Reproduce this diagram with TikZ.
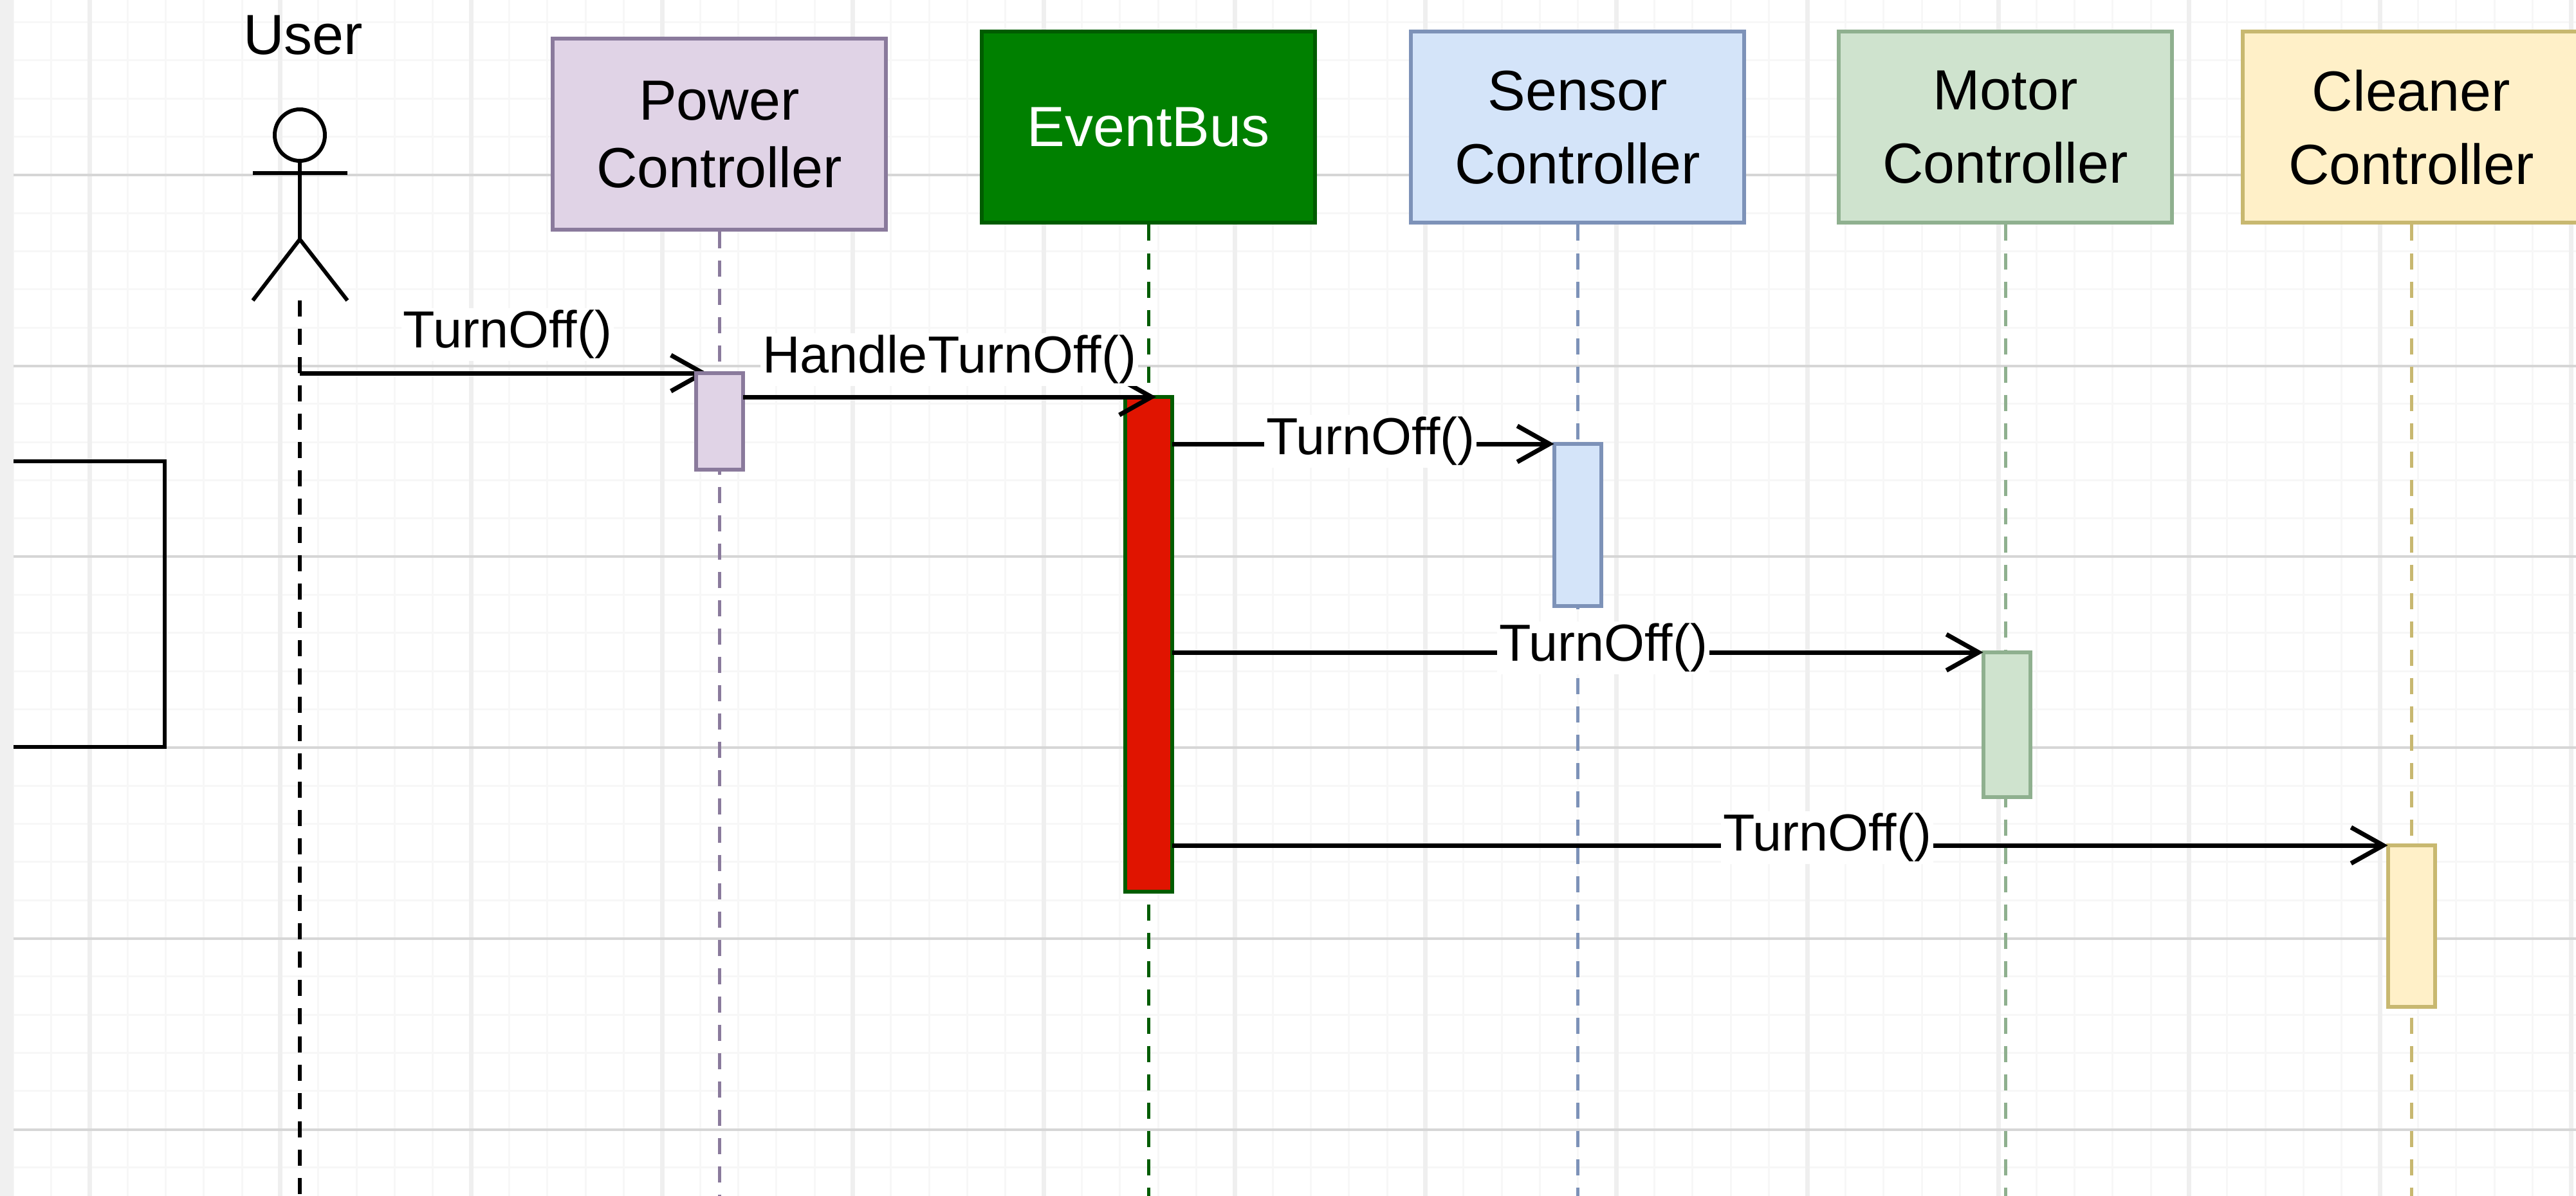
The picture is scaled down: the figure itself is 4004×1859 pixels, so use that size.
\documentclass[tikz,border=0pt]{standalone}
\usepackage{fontspec}
\setmainfont{Liberation Sans}
\usetikzlibrary{arrows.meta,shapes.geometric}
\definecolor{powerfill}{HTML}{E0D3E6}
\definecolor{powerline}{HTML}{8A7A9C}
\definecolor{busfill}{HTML}{008000}
\definecolor{busline}{HTML}{005C00}
\definecolor{sensorfill}{HTML}{D4E4F9}
\definecolor{sensorline}{HTML}{7D92B8}
\definecolor{motorfill}{HTML}{CFE3CE}
\definecolor{motorline}{HTML}{8FB08F}
\definecolor{cleanerfill}{HTML}{FFF0C8}
\definecolor{cleanerline}{HTML}{C8B870}
\definecolor{busred}{HTML}{E01400}
\tikzset{
    x=1pt, y=-1pt,
    every node/.style={font=\fontsize{88}{105}\selectfont, align=center},
    headbox/.style={draw, line width=6pt, minimum width=518pt, minimum height=297pt, inner sep=0pt},
    actbox/.style={draw, line width=6pt, minimum width=73pt, inner sep=0pt, outer sep=0pt, anchor=north},
    lifeline/.style={line width=5pt, dash pattern=on 25pt off 19pt},
    msg/.style={line width=7pt, -{Straight Barb[length=50pt,width=56pt]}},
    msglabel/.style={fill=white, inner sep=3pt, font=\fontsize{81}{97}\selectfont},
    stick/.style={line width=6pt}
}
\begin{document}
\begin{tikzpicture}
    \useasboundingbox (0,0) rectangle (4004,1859);

    % Draw Page and Grid
    \fill[white] (0,0) rectangle (4004,1859);
    \foreach \i in {0,...,67} {
        \draw[line width=3pt, color={rgb,255:red,247; green,247; blue,247}] ({20+59.34*\i},0) -- ({20+59.34*\i},1859);
    }
    \foreach \i in {0,...,31} {
        \draw[line width=3pt, color={rgb,255:red,247; green,247; blue,247}] (0,{-25+59.34*\i}) -- (4004,{-25+59.34*\i});
    }
    \foreach \i in {0,...,13} {
        \draw[line width=7pt, color={rgb,255:red,239; green,239; blue,239}] ({139+296.7*\i},0) -- ({139+296.7*\i},1859);
    }
    \foreach \i in {0,...,5} {
        \draw[line width=4pt, color={rgb,255:red,214; green,214; blue,214}] (0,{272+296.7*\i}) -- (4004,{272+296.7*\i});
    }
    \fill[color={rgb,255:red,240; green,240; blue,240}] (0,0) rectangle (21,1859);

    % Part of a Box at the Page Edge
    \coordinate (framea) at (21,717);
    \coordinate (frameb) at (256,717);
    \coordinate (framec) at (256,1161);
    \coordinate (framed) at (21,1161);
    \draw[line width=6pt] (framea) -- (frameb) -- (framec) -- (framed);

    % Heads
    \node[headbox, draw=powerline, fill=powerfill] (power) at (1118,209) {Power\\Controller};
    \node[headbox, draw=busline, fill=busfill, text=white] (bus) at (1785,198) {EventBus};
    \node[headbox, draw=sensorline, fill=sensorfill] (sensor) at (2452,198) {Sensor\\[9pt]Controller};
    \node[headbox, draw=motorline, fill=motorfill] (motor) at (3117,198) {Motor\\[9pt]Controller};
    \node[headbox, draw=cleanerline, fill=cleanerfill, minimum width=525pt] (cleaner) at (3748,198) {Cleaner\\[9pt]Controller};

    % User
    \node (user) at (471,55) {User};
    \node[draw, line width=6pt, ellipse, minimum width=78pt, minimum height=80pt, inner sep=0pt] (head) at (466,210) {};
    \coordinate (hip) at (466,372);
    \coordinate (userfoot) at (466,467);
    \coordinate (armleft) at (393,269);
    \coordinate (armright) at (540,269);
    \coordinate (legleft) at (393,467);
    \coordinate (legright) at (540,467);
    \draw[stick] (head) -- (hip);
    \draw[stick] (armleft) -- (armright);
    \draw[stick] (legleft) -- (hip) -- (legright);

    % Lifelines
    \coordinate (userend) at (466,1859);
    \draw[lifeline, line width=6pt] (userfoot) -- (userend);
    \foreach \who/\col in {power/powerline, bus/busline, sensor/sensorline, motor/motorline, cleaner/cleanerline} {
        \draw[lifeline, color=\col] (\who.south) -- (\who.south |- userend);
    }

    % First Message goes under its Bar
    \coordinate (userout) at (466,580);
    \coordinate (powerin) at (1100,580);
    \draw[msg] (userout) -- node[msglabel, yshift=60pt, xshift=6pt] {TurnOff()} (powerin);

    % Bars
    \node[actbox, draw=powerline, fill=powerfill, minimum height=150pt] (poweract) at (1118,580) {};
    \node[actbox, draw=busline, fill=busred, minimum height=769pt] (busact) at (1785,617) {};
    \node[actbox, draw=sensorline, fill=sensorfill, minimum height=252pt] (sensoract) at (2452,690) {};
    \node[actbox, draw=motorline, fill=motorfill, minimum height=225pt] (motoract) at (3119,1014) {};
    \node[actbox, draw=cleanerline, fill=cleanerfill, minimum height=251pt] (cleaneract) at (3748,1314) {};

    % Messages
    \coordinate (busin) at (1797,617);
    \draw[msg] (poweract.east |- busin) -- node[msglabel, yshift=58pt] {HandleTurnOff()} (busin);
    \draw[msg] (busact.east |- sensoract.north) -- node[msglabel, pos=.52, yshift=4pt] {TurnOff()} (sensoract.north west);
    \draw[msg] (busact.east |- motoract.north) -- node[msglabel, pos=.532, yshift=7pt] {TurnOff()} (motoract.north west);
    \draw[msg] (busact.east |- cleaneract.north) -- node[msglabel, pos=.539, yshift=12pt] {TurnOff()} (cleaneract.north west);

\end{tikzpicture}
\end{document}
